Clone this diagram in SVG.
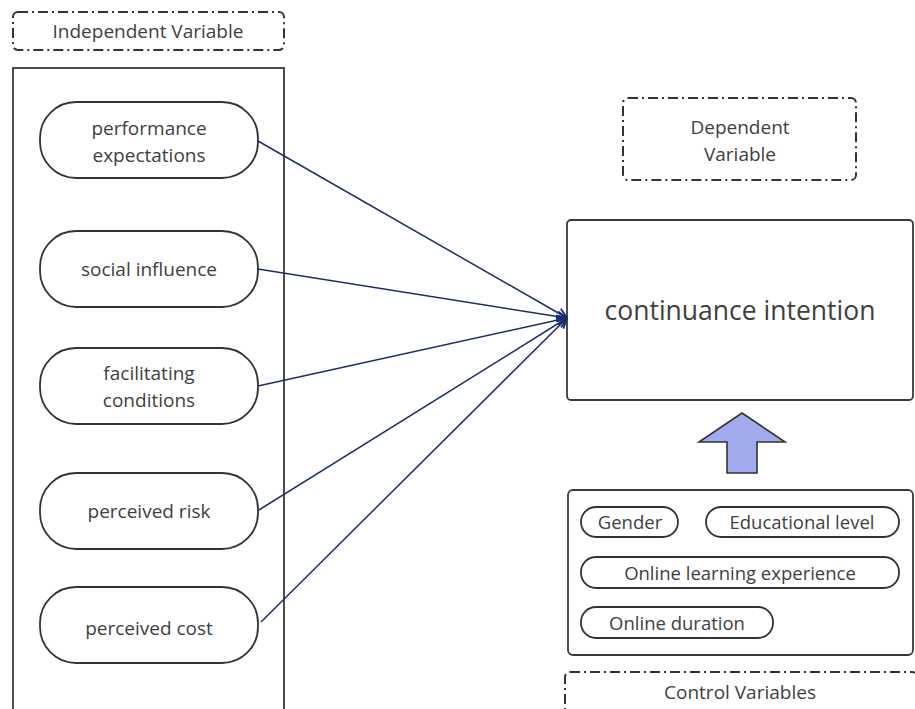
<svg xmlns="http://www.w3.org/2000/svg" width="915" height="709" viewBox="0 0 915 709">
<style>
.t{font-family:"Open Sans","Noto Sans",sans-serif;fill:#404040;text-anchor:middle}
.n{font-size:19px}
.s{font-size:18.5px}
.dash{fill:none;stroke:#333;stroke-width:2;stroke-dasharray:10 4 2 4}
.box{fill:#fff;stroke:#3a3a3a;stroke-width:1.8}
.pill{fill:#fff;stroke:#333;stroke-width:1.8}
.c{stroke:#1b2d6e;stroke-width:1.5;fill:none}
</style>
<defs>
<marker id="ah" viewBox="0 0 12 12" refX="11" refY="6" markerWidth="12" markerHeight="12" markerUnits="userSpaceOnUse" orient="auto">
<path d="M1,1 L11,6 L1,11" fill="none" stroke="#1b2d6e" stroke-width="1.8"/>
</marker>
</defs>
<g id="iv-label">
<rect x="13" y="12" width="271" height="38" rx="5" class="dash"/>
<text x="148" y="38" class="t n">Independent Variable</text>
</g>
<g id="iv-box">
<rect x="13" y="68" width="271" height="660" class="box" fill="none"/>
</g>
<g id="n1">
<rect x="40" y="102" width="218" height="76" rx="36" class="pill"/>
<text x="149" y="135" class="t n">performance</text>
<text x="149" y="161.5" class="t n">expectations</text>
</g>
<g id="n2">
<rect x="40" y="231" width="218" height="76" rx="36" class="pill"/>
<text x="149" y="276" class="t n">social influence</text>
</g>
<g id="n3">
<rect x="40" y="348" width="218" height="76" rx="36" class="pill"/>
<text x="149" y="380" class="t n">facilitating</text>
<text x="149" y="406.5" class="t n">conditions</text>
</g>
<g id="n4">
<rect x="40" y="473" width="218" height="76" rx="36" class="pill"/>
<text x="149" y="518" class="t n">perceived risk</text>
</g>
<g id="n5">
<rect x="40" y="587" width="218" height="76" rx="36" class="pill"/>
<text x="149" y="635" class="t n">perceived cost</text>
</g>
<g id="dv-label">
<rect x="623" y="98" width="233" height="82" rx="5" class="dash"/>
<text x="740" y="134" class="t n">Dependent</text>
<text x="740" y="160.5" class="t n">Variable</text>
</g>
<g id="target">
<rect x="567" y="220" width="346" height="180" rx="4" class="box"/>
<text x="740" y="320" class="t" style="font-size:26.5px">continuance intention</text>
</g>
<g id="connectors">
<line x1="258" y1="141" x2="567" y2="318" class="c" marker-end="url(#ah)"/>
<line x1="258" y1="269" x2="567" y2="318" class="c" marker-end="url(#ah)"/>
<line x1="258" y1="386" x2="567" y2="318" class="c" marker-end="url(#ah)"/>
<line x1="259" y1="510" x2="567" y2="318" class="c" marker-end="url(#ah)"/>
<line x1="261" y1="622" x2="567" y2="318" class="c" marker-end="url(#ah)"/>
<path id="up-arrow" d="M742,413 L785,442 L757,442 L757,473 L727,473 L727,442 L699,442 Z" fill="#a3abef" stroke="#333" stroke-width="1.6" stroke-linejoin="miter"/>
</g>
<g id="controls">
<rect x="568" y="490" width="345" height="165" rx="5" class="box"/>
</g>
<g id="gender">
<rect x="581" y="507" width="97" height="30" rx="15" class="pill"/>
<text x="630" y="529" class="t s">Gender</text>
</g>
<g id="edu">
<rect x="706" y="507" width="193" height="30" rx="15" class="pill"/>
<text x="802" y="529" class="t s">Educational level</text>
</g>
<g id="exp">
<rect x="581" y="557" width="318" height="31" rx="15" class="pill"/>
<text x="740" y="580" class="t s">Online learning experience</text>
</g>
<g id="dur">
<rect x="581" y="607" width="192" height="31" rx="15" class="pill"/>
<text x="677" y="630" class="t s">Online duration</text>
</g>
<g id="cv-label">
<rect x="565" y="672" width="352" height="60" rx="5" class="dash"/>
<text x="740" y="699" class="t n">Control Variables</text>
</g>
</svg>
